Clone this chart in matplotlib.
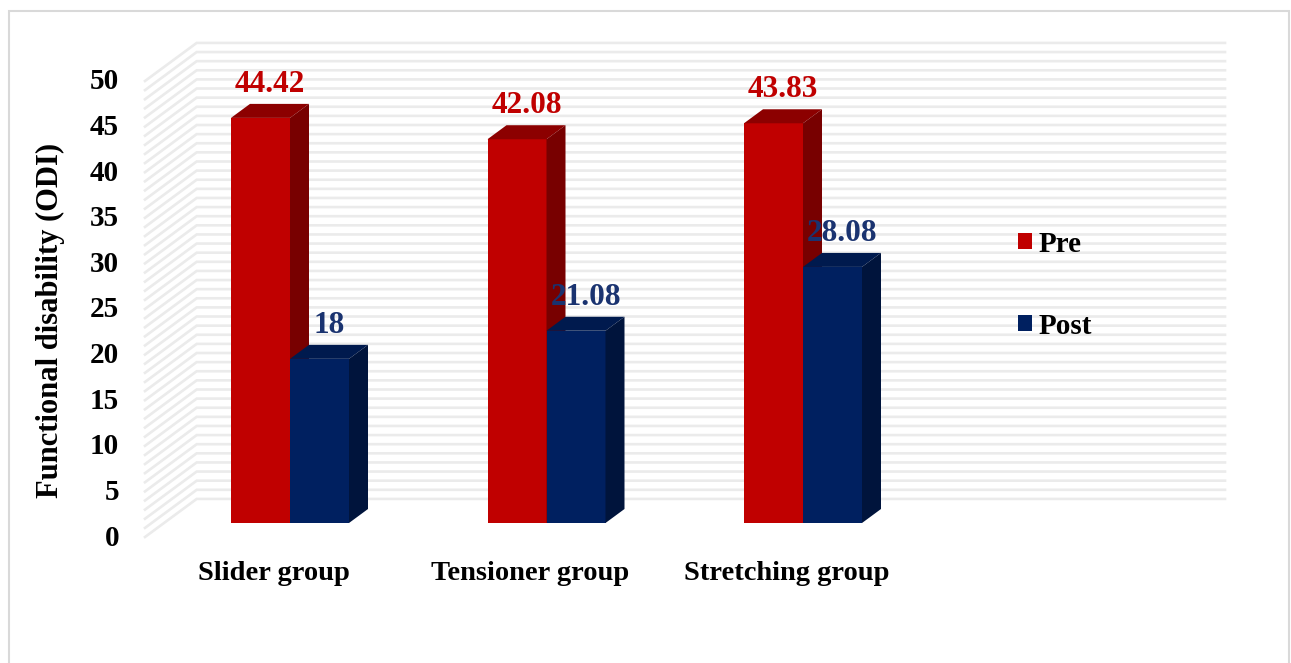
import matplotlib
matplotlib.use("Agg")
import matplotlib.pyplot as plt
from matplotlib.patches import Polygon, Rectangle
import numpy as np

# ---------------- data ----------------
categories = ["Slider group", "Tensioner group", "Stretching group"]
series_names = ["Pre", "Post"]
pre_values = [44.42, 42.08, 43.83]
post_values = [18, 21.08, 28.08]
pre_labels = ["44.42", "42.08", "43.83"]
post_labels = ["18", "21.08", "28.08"]
y_ticks = [0, 5, 10, 15, 20, 25, 30, 35, 40, 45, 50]
y_title = "Functional disability (ODI)"

# ---------------- style ----------------
W, H = 1291, 663
DPI = 100
FONT = "Liberation Serif"
pre_cols = dict(front="#C00000", top="#8C0000", side="#780000")
post_cols = dict(front="#002060", top="#001A4E", side="#00143C")
pre_txt = "#C00000"
post_txt = "#1A3370"
grid_col = "#EBEBEB"

fig = plt.figure(figsize=(W / DPI, H / DPI), dpi=DPI)
ax = fig.add_axes([0, 0, 1, 1])
ax.set_axis_off()

# pixel mapping: bar-front plane -> x_px = 290 + 256.5*x, y_from_top = 523 - 9.12*v
PXC, PXV = 256.5, 9.12
ax.set_xlim(-290 / PXC, (W - 290) / PXC)
ax.set_ylim(-(H - 523) / PXV, 523 / PXV)

# depth step (one unit of depth) in data units
DXc = 19 / PXC
DYv = 14 / PXV


def proj(x, v, z):
    return (x + DXc * (z - 1), v + DYv * (z - 1))


x_left = (164 - 290) / PXC
z_wall = 2.72
x_right = (1225 - 290 - 19 * (z_wall - 1)) / PXC
ymax = y_ticks[-1]

# walls gridlines (every 1 unit)
for v in range(0, ymax + 1):
    p0 = proj(x_left, v, 0)
    p1 = proj(x_left, v, z_wall)
    p2 = proj(x_right, v, z_wall)
    ax.plot([p0[0], p1[0], p2[0]], [p0[1], p1[1], p2[1]], color=grid_col,
            lw=1.9, solid_joinstyle="miter", zorder=1)

bw = 59 / PXC
x = np.arange(len(categories))


def draw_bar3d(xl, val, cols, z0):
    # front face via bar
    ax.bar(xl, val, width=bw, align="edge", color=cols["front"], linewidth=0, zorder=z0)
    # top face
    top = [proj(xl, val, 1), proj(xl + bw, val, 1), proj(xl + bw, val, 2), proj(xl, val, 2)]
    ax.add_patch(Polygon(top, closed=True, facecolor=cols["top"], edgecolor="none", zorder=z0))
    # right side face
    side = [proj(xl + bw, 0, 1), proj(xl + bw, 0, 2), proj(xl + bw, val, 2), proj(xl + bw, val, 1)]
    ax.add_patch(Polygon(side, closed=True, facecolor=cols["side"], edgecolor="none", zorder=z0))


for i in range(len(categories)):
    z0 = 3 + i * 2
    draw_bar3d(x[i] - bw, pre_values[i], pre_cols, z0)
    draw_bar3d(x[i], post_values[i], post_cols, z0 + 1)

# data labels
for i in range(len(categories)):
    for xl, val, lab, col in [(x[i] - bw, pre_values[i], pre_labels[i], pre_txt),
                              (x[i], post_values[i], post_labels[i], post_txt)]:
        cx = proj(xl + bw / 2, val, 1.5)[0]
        cy = proj(xl, val, 2)[1]
        ax.annotate(lab, (cx, cy), xytext=(0, 5), textcoords="offset pixels",
                    ha="center", va="bottom", fontsize=22.5, fontweight="bold",
                    family=FONT, color=col, zorder=20)

# y tick labels
for t in y_ticks:
    p = proj(x_left, t, 0)
    ax.annotate(str(t), p, xytext=(-26, -1), textcoords="offset pixels",
                ha="right", va="center", fontsize=21, fontweight="bold",
                family=FONT, color="black")

# category labels
for i, c in enumerate(categories):
    p = proj(x[i], 0, 0)
    ax.annotate(c, p, xytext=(3, -36), textcoords="offset pixels",
                ha="center", va="center", fontsize=20.5, fontweight="bold",
                family=FONT, color="black")

# y title
fig.text(50 / W, 1 - 320 / H, y_title, rotation=90, ha="center", va="center",
         fontsize=22, fontweight="bold", family=FONT, color="black")

# legend (manual)
for name, cols, yc in [(series_names[0], pre_cols, 241), (series_names[1], post_cols, 323)]:
    fig.patches.append(Rectangle((1018 / W, 1 - (yc + 8) / H), 14 / W, 16 / H,
                                 transform=fig.transFigure, facecolor=cols["front"],
                                 edgecolor="none"))
    fig.text(1039 / W, 1 - (yc + 3) / H, name, ha="left", va="center",
             fontsize=21, fontweight="bold", family=FONT, color="black")

# outer border (bottom edge lies below the image)
fig.patches.append(Rectangle((8.5 / W, -10 / H), (1289 - 8.5) / W, (652 + 10) / H,
                             transform=fig.transFigure, facecolor="none",
                             edgecolor="#D9D9D9", lw=1.5))

fig.savefig("out.png", dpi=DPI)
